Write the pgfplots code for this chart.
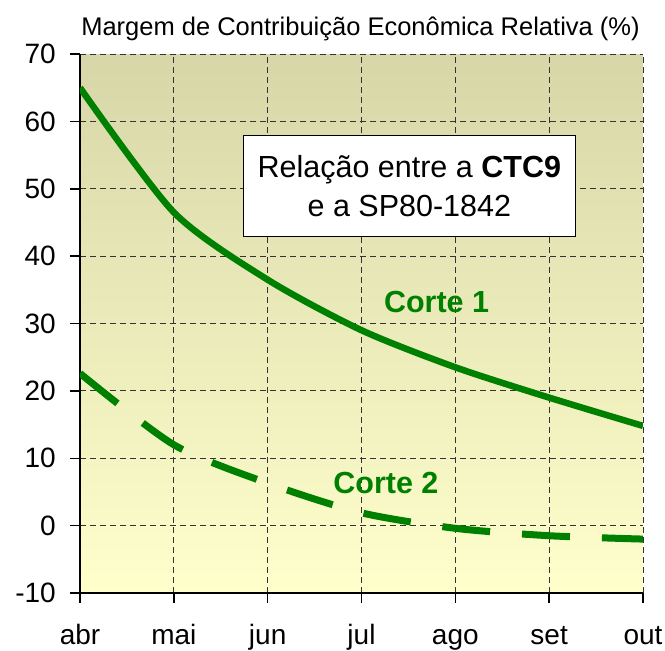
\documentclass[border=0pt]{standalone}
\usepackage{pgfplots}
\pgfplotsset{compat=1.18}
\usepackage{fontspec}
\setmainfont{Liberation Sans}
\definecolor{cgreen}{RGB}{0,128,0}
\definecolor{bgtop}{RGB}{214,214,168}
\definecolor{bgbot}{RGB}{255,255,204}
\begin{document}
\begin{tikzpicture}[x=1pt,y=1pt]
\path[use as bounding box] (-80,-58) rectangle (585,593);
\begin{axis}[
  at={(0,0)}, anchor=south west,
  scale only axis, width=563pt, height=539pt,
  xmin=0, xmax=6, ymin=-10, ymax=70,
  xtick={0,...,6}, xticklabels={abr,mai,jun,jul,ago,set,out},
  ytick={-10,0,...,70},
  axis x line*=bottom, axis y line*=left,
  tick align=outside, major tick length=10pt,
  grid=major,
  major grid style={black!80, dash pattern=on 6pt off 4pt, line width=0.8pt},
  axis line style={black, line width=1.5pt},
  tick style={black, line width=1.5pt},
  ticklabel style={font=\fontsize{28}{32}\selectfont},
  xticklabel style={anchor=base, yshift=-41.5pt},
  yticklabel style={anchor=east, inner sep=0pt, xshift=-14pt},
  /pgf/number format/assume math mode=true,
  axis background/.style={shade, top color=bgtop, bottom color=bgbot},
]
\addplot[cgreen, line width=6.5pt, smooth, tension=0.45] coordinates {
(0,65) (1,46.5) (2,36.5) (3,29) (4,23.5) (5,19) (6,14.8)};
\addplot[cgreen, line width=7pt, smooth, tension=0.45, dash pattern=on 48pt off 32pt] coordinates {
(0,22.6) (1,12) (2,6.3) (3,1.9) (4,-0.4) (5,-1.5) (6,-2)};
\node[draw=black, line width=1.2pt, fill=white, align=center, minimum width=332pt, minimum height=101pt, inner sep=0pt, font=\fontsize{30.5}{39}\selectfont] at (axis cs:3.51,50.4) {Relação entre a \textbf{CTC9}\\e a SP80-1842};
\node[text=cgreen, font=\bfseries\fontsize{30.5}{34}\selectfont] at (axis cs:3.80,33.2) {Corte 1};
\node[text=cgreen, font=\bfseries\fontsize{30.5}{34}\selectfont] at (axis cs:3.26,6.4) {Corte 2};
\end{axis}
\node[anchor=base, font=\fontsize{25.5}{30}\selectfont] at (280.5,557) {Margem de Contribuição Econômica Relativa (\%)};
\end{tikzpicture}
\end{document}
